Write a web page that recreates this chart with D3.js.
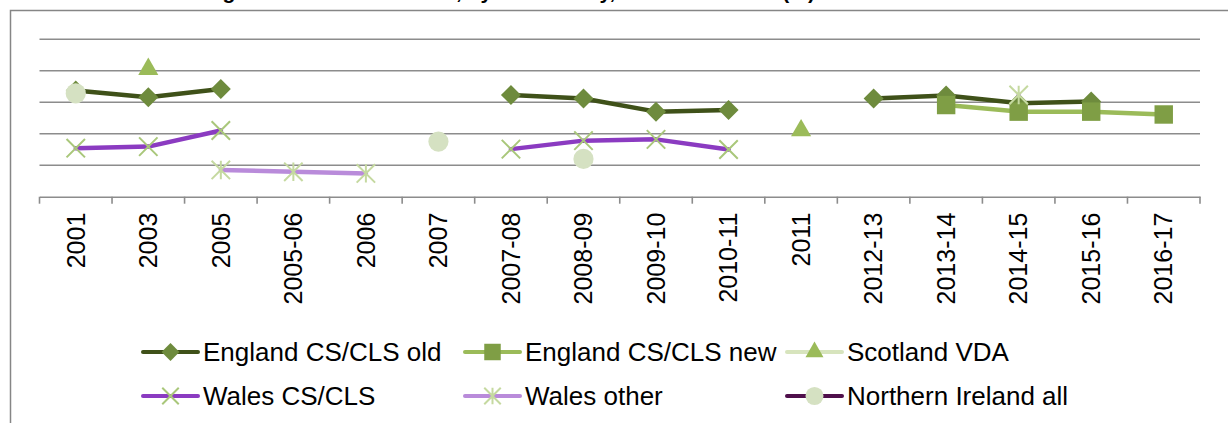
<!DOCTYPE html>
<html><head><meta charset="utf-8">
<script src="https://cdn.jsdelivr.net/npm/d3@7"></script>
<style>body{margin:0;background:#fff;overflow:hidden}svg{display:block}</style>
</head><body><svg id="c" width="1228" height="423"></svg>
<script>
const categories = ["2001","2003","2005","2005-06","2006","2007","2007-08","2008-09","2009-10","2010-11","2011","2012-13","2013-14","2014-15","2015-16","2016-17"];
const englandOld = [33.7,31.6,34.2,null,null,null,32.3,31.2,27.0,27.5,null,31.2,32.1,29.7,30.2,null];
const englandNew = [null,null,null,null,null,null,null,null,null,null,null,null,29.1,27.0,27.0,26.1];
const scotlandVDA = [null,40.5,null,null,null,null,null,null,null,null,21.0,null,null,null,null,null];
const walesCS = [15.4,15.9,21.0,null,null,null,15.1,17.8,18.2,15.0,null,null,null,null,null,null];
const walesOther = [null,null,8.5,7.9,7.4,null,null,null,null,null,null,null,null,32.3,null,null];
const niAll = [32.8,null,null,null,null,17.5,null,12.0,null,null,null,null,null,null,null,null];
const yTicks = [0,10,20,30,40,50];
const titleText = "Formal volunteering at least once a month, by UK country, 2001 to 2016-17 (%)";

const crossSym = {draw(ctx, size){const r=Math.sqrt(size)/2; ctx.moveTo(-r,-r);ctx.lineTo(r,r);ctx.moveTo(r,-r);ctx.lineTo(-r,r);}};
const starSym = {draw(ctx, size){const r=Math.sqrt(size)/2; ctx.moveTo(-r,-r);ctx.lineTo(r,r);ctx.moveTo(r,-r);ctx.lineTo(-r,r);ctx.moveTo(0,-r);ctx.lineTo(0,r);}};
const diamondSym = {draw(ctx, size){const r=Math.sqrt(size)/2; ctx.moveTo(0,-r);ctx.lineTo(r,0);ctx.lineTo(0,r);ctx.lineTo(-r,0);ctx.closePath();}};

const series = [
 {name:"England CS/CLS old", values:englandOld, line:"#3F5119", lw:4.5, sym:diamondSym, size:400, fill:"#6E8B3D", stroke:null},
 {name:"England CS/CLS new", values:englandNew, line:"#9BBB59", lw:4.5, sym:d3.symbolSquare, size:340, fill:"#7F9E45", stroke:null},
 {name:"Scotland VDA", values:scotlandVDA, line:"#D7E4BD", lw:4.5, sym:d3.symbolTriangle, size:175, fill:"#9BBB59", stroke:null},
 {name:"Wales CS/CLS", values:walesCS, line:"#8B3BC1", lw:4.5, sym:crossSym, size:340, fill:"none", stroke:"#A9C77A"},
 {name:"Wales other", values:walesOther, line:"#B98BDA", lw:4.5, sym:starSym, size:340, fill:"none", stroke:"#C5D9A0"},
 {name:"Northern Ireland all", values:niAll, line:"#4F0F4B", lw:4.5, sym:d3.symbolCircle, size:320, fill:"#D5E1C2", stroke:null}
];

const svg = d3.select("#c");
const L=39.5, R=1200, T=39.2, B=196.7;
const x = d3.scaleBand().domain(categories).range([L,R]);
const y = d3.scaleLinear().domain([0,50]).range([B,T]);
const font = "'Liberation Sans', Arial, sans-serif";

// title (mostly above the window, as in the reference)
svg.append("text").attr("x",815).attr("y",-1.5).attr("text-anchor","end")
  .attr("font-family",font).attr("font-weight","bold").attr("font-size",21).text(titleText);

// chart frame
svg.append("rect").attr("x",10.5).attr("y",10.5).attr("width",1300).attr("height",500)
  .attr("fill","none").attr("stroke","#868686").attr("stroke-width",1.5);

// gridlines
svg.append("g").selectAll("line").data(yTicks.filter(d=>d>0)).join("line")
  .attr("x1",L).attr("x2",R).attr("y1",d=>y(d)).attr("y2",d=>y(d))
  .attr("stroke","#8C8C8C").attr("stroke-width",1.6);

// x axis
const ax = svg.append("g").attr("transform",`translate(0,${y(0)})`)
  .call(d3.axisBottom(x).tickSize(0).tickPadding(0));
ax.select(".domain").attr("stroke","#8C8C8C").attr("stroke-width",1.6);
ax.selectAll(".tick text").attr("font-family",font).attr("font-size",25).attr("fill","#000")
  .attr("text-anchor","end").attr("dy","0.35em")
  .attr("transform","translate(0,16) rotate(-90)").attr("y",0).attr("x",0);
const bounds = categories.map(c=>x(c)).concat([R]);
svg.append("g").selectAll("line").data(bounds).join("line")
  .attr("x1",d=>d).attr("x2",d=>d).attr("y1",y(0)).attr("y2",y(0)+7)
  .attr("stroke","#8C8C8C").attr("stroke-width",1.6);

// series
const cx = i => x(categories[i]) + x.bandwidth()/2;
series.forEach(s=>{
  const pts = s.values.map((v,i)=>({v,i}));
  const line = d3.line().defined(d=>d.v!=null).x(d=>cx(d.i)).y(d=>y(d.v));
  const g = svg.append("g");
  g.append("path").attr("d",line(pts)).attr("fill","none").attr("stroke",s.line)
    .attr("stroke-width",s.lw).attr("stroke-linejoin","round").attr("stroke-linecap","round");
  g.selectAll("path.m").data(pts.filter(d=>d.v!=null)).join("path").attr("class","m")
    .attr("transform",d=>`translate(${cx(d.i)},${y(d.v)})`)
    .attr("d",d3.symbol().type(s.sym).size(s.size))
    .attr("fill",s.fill).attr("stroke",s.stroke||"none").attr("stroke-width",s.stroke?2:0);
});

// legend
const legX = [143,465,787], legY = [352,396];
series.forEach((s,k)=>{
  const lx = legX[k%3], ly = legY[Math.floor(k/3)];
  const g = svg.append("g").attr("transform",`translate(${lx},${ly})`);
  g.append("line").attr("x1",0).attr("x2",55).attr("y1",0).attr("y2",0)
    .attr("stroke",s.line).attr("stroke-width",4).attr("stroke-linecap","round");
  g.append("path").attr("transform","translate(27.5,0)")
    .attr("d",d3.symbol().type(s.sym).size(s.size*0.8))
    .attr("fill",s.fill).attr("stroke",s.stroke||"none").attr("stroke-width",s.stroke?2:0);
  g.append("text").attr("x",60).attr("y",0).attr("dy","0.35em")
    .attr("font-family",font).attr("font-size",26).attr("fill","#000").text(s.name);
});
</script></body></html>
